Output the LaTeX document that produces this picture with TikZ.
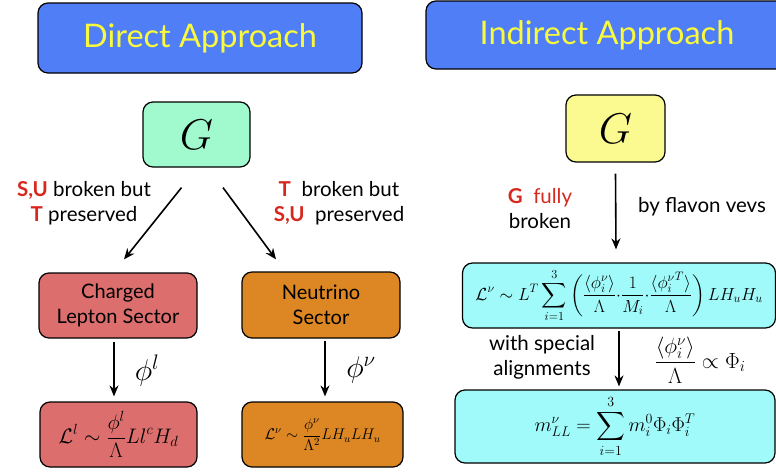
\RequirePackage{fix-cm}
\documentclass[tikz,border=0pt]{standalone}
\usepackage{amsmath}
\usepackage{amssymb}
\usepackage{fontspec}
\setmainfont{Lato}
\usetikzlibrary{arrows.meta,positioning}

\definecolor{titleblue}{RGB}{79,126,247}
\definecolor{titleyellow}{RGB}{250,250,60}
\definecolor{groupgreen}{RGB}{160,250,205}
\definecolor{groupyellow}{RGB}{250,250,145}
\definecolor{leptonred}{RGB}{220,110,110}
\definecolor{nuorange}{RGB}{220,135,35}
\definecolor{flavcyan}{RGB}{160,250,250}
\definecolor{symred}{RGB}{215,40,30}

\tikzset{
    box/.style={draw, line width=1.2pt, rounded corners=10pt, inner sep=0pt, align=center},
    title/.style={box, fill=titleblue, text=titleyellow, font=\fontsize{32.5}{38}\selectfont},
    flow/.style={-{Stealth[length=11pt,width=9pt]}, line width=1.6pt},
    txt/.style={align=center, font=\fontsize{20.5}{25}\selectfont},
}
\newcommand{\sym}[1]{\textcolor{symred}{\textbf{#1}}}

\begin{document}
\begin{tikzpicture}[x=1pt, y=-1pt]
    \useasboundingbox (0,0) rectangle (776,471);

    % Titles
    \node[title, minimum width=324pt, minimum height=70pt] (direct) at (200,38) {Direct Approach};
    \node[title, minimum width=362pt, minimum height=68pt] (indirect) at (607,35) {Indirect Approach};

    % Family groups
    \node[box, fill=groupgreen, minimum width=107pt, minimum height=65pt, font=\fontsize{43}{43}\selectfont] (gd) at (196.5,134.5) {$G$};
    \node[box, fill=groupyellow, minimum width=99pt, minimum height=67pt, font=\fontsize{43}{43}\selectfont] (gi) at (615.5,128.5) {$G$};

    % Direct approach: sectors
    \node[box, fill=leptonred, minimum width=158pt, minimum height=65pt, font=\fontsize{20}{25}\selectfont] (cl) at (118,305.5) {Charged\\Lepton Sector};
    \node[box, fill=nuorange, minimum width=158pt, minimum height=66pt, font=\fontsize{20}{25}\selectfont] (nt) at (321,305) {Neutrino\\Sector};

    % Direct approach: effective terms
    \node[box, fill=leptonred, minimum width=157pt, minimum height=65pt, font=\fontsize{21}{21}\selectfont] (lcl) at (118.5,434.5)
        {$\displaystyle \mathcal{L}^l \sim \frac{\phi^l}{\Lambda} L l^c H_d$};
    \node[box, fill=nuorange, minimum width=161pt, minimum height=65pt, font=\fontsize{15.5}{15.5}\selectfont] (lnt) at (322.5,434.5)
        {$\displaystyle \mathcal{L}^\nu \sim \frac{\phi^\nu}{\Lambda^2} L H_u L H_u$};

    % Indirect approach: effective terms
    \node[box, fill=flavcyan, minimum width=313pt, minimum height=65pt, font=\fontsize{17.5}{17.5}\selectfont] (lfl) at (619,295.5)
        {$\displaystyle \mathcal{L}^\nu \sim L^T \sum_{i=1}^{3} \left( \frac{\langle \phi_i^\nu \rangle}{\Lambda} {\cdot} \frac{1}{M_i} {\cdot} \frac{\langle {\phi_i^\nu}^T \rangle}{\Lambda} \right) L H_u H_u$};
    \node[box, fill=flavcyan, minimum width=320pt, minimum height=73pt, font=\fontsize{20}{20}\selectfont] (mll) at (615,426.5)
        {$\displaystyle m_{LL}^\nu = \sum_{i=1}^{3} m_i^0 \Phi_i \Phi_i^T$};

    % Arrows
    \draw[flow] ([xshift=-15pt,yshift=-20pt]gd.south) -- ([xshift=6pt,yshift=13pt]cl.north);
    \draw[flow] ([xshift=26.5pt,yshift=-20pt]gd.south) -- ([xshift=-45pt,yshift=12pt]nt.north);
    \draw[flow] ([xshift=-4pt,yshift=-3pt]cl.south) -- ([xshift=-4.5pt,yshift=5pt]lcl.north);
    \draw[flow] ([xshift=4pt,yshift=-2pt]nt.south) -- ([xshift=2.5pt,yshift=5pt]lnt.north);
    \draw[flow] ([yshift=-11pt]gi.south) -- ([xshift=-3pt,yshift=13pt]lfl.north);
    \draw[flow] ([yshift=-2pt]lfl.south) -- ([xshift=4pt,yshift=3pt]mll.north);

    % Labels
    \node[txt] (brkl) at (84,203) {\sym{S,U} broken but\\\sym{T} preserved};
    \node[txt] (brkr) at (339,203) {\sym{T}\ \ broken but\\\sym{S,U}\ \ preserved};
    \node[txt] (fully) at (540,209) {\sym{G}\ \ \textcolor{symred}{fully}\\broken};
    \node[txt] (vevs) at (702,207) {by flavon vevs};
    \node[txt] (align) at (542,357) {with special\\alignments};
    \node[font=\fontsize{30}{30}\selectfont] (phil) at (147,371) {$\phi^l$};
    \node[font=\fontsize{30}{30}\selectfont] (phin) at (361,370) {$\phi^\nu$};
    \node[font=\fontsize{22}{22}\selectfont] (prop) at (700,360) {$\displaystyle \frac{\langle \phi_i^\nu \rangle}{\Lambda} \propto \Phi_i$};
\end{tikzpicture}
\end{document}
